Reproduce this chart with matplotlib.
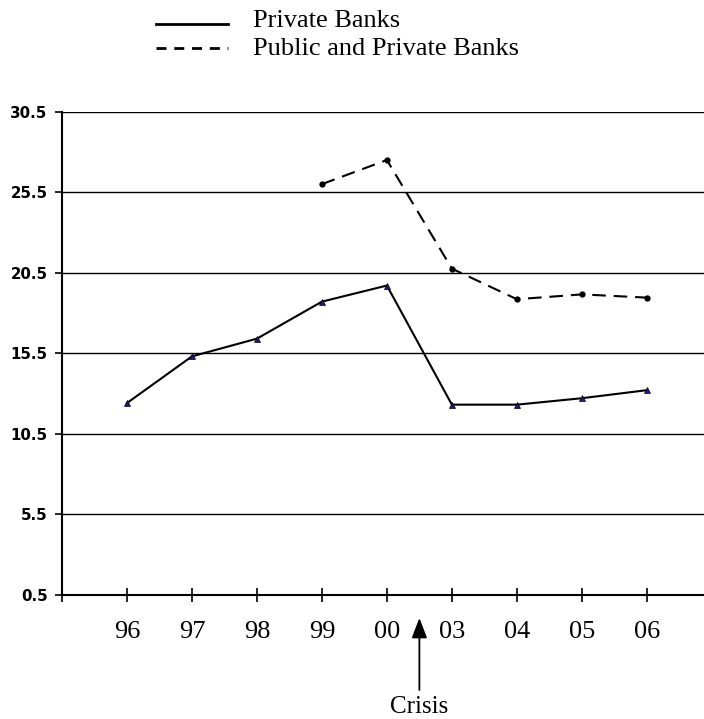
import matplotlib.pyplot as plt
import numpy as np
from matplotlib.lines import Line2D

years = ['96', '97', '98', '99', '00', '03', '04', '05', '06']
private = [12.4, 15.3, 16.4, 18.7, 19.7, 12.3, 12.3, 12.7, 13.2]
public_private = [np.nan, np.nan, np.nan, 26.0, 27.5, 20.75, 18.85, 19.15, 18.95]
yticks = [0.5, 5.5, 10.5, 15.5, 20.5, 25.5, 30.5]
labels = ['Private Banks', 'Public and Private Banks']

W, H = 704, 719
fig = plt.figure(figsize=(W / 100, H / 100), dpi=100)
ax = fig.add_axes([62 / W, 124.4 / H, 1 - 62 / W, 482.9 / H])

x = np.arange(len(years))
ax.plot(x, private, color='black', lw=1.5, marker='^', ms=4.5,
        mfc='#1a1a80', mec='black', mew=0.5, zorder=3)
ax.plot(x, public_private, color='black', lw=1.5, ls=(0, (6.5, 3.8)),
        marker='o', ms=3.5, mfc='black', mec='black', zorder=3)

ax.set_ylim(0.5, 30.5)
ax.set_xlim(-1, 8.88)
ax.set_yticks(yticks)
ax.set_yticklabels([str(v) for v in yticks], fontweight='bold',
                   fontsize=10.8, family='DejaVu Sans')
ax.set_xticks(np.arange(-1, len(years)))
ax.set_xticklabels([''] + years, fontsize=19, family='Liberation Serif')
ax.tick_params(axis='x', direction='inout', length=10, width=1.2, pad=14)
ax.tick_params(axis='y', direction='out', length=5, width=1.2, pad=5.5)

for v in yticks[1:]:
    ax.axhline(v, color='black', lw=1.0, zorder=1)

ax.spines['right'].set_visible(False)
ax.spines['top'].set_visible(False)
ax.spines['left'].set_linewidth(1.5)
ax.spines['bottom'].set_linewidth(1.5)

# crisis marker between 00 and 03
ax_h = 482.9
ax.annotate('', xy=(4.5, -(618 - 594.6) / ax_h), xycoords=('data', 'axes fraction'),
            xytext=(4.5, -(690 - 594.6) / ax_h), textcoords=('data', 'axes fraction'),
            arrowprops=dict(arrowstyle='-|>,head_length=1.22,head_width=0.47',
                            mutation_scale=10, color='black', lw=1.3,
                            shrinkA=0, shrinkB=0),
            annotation_clip=False)
ax.text(4.5, -(713 - 594.6) / ax_h, 'Crisis', transform=ax.get_xaxis_transform(),
        ha='center', va='baseline', fontsize=18, family='Liberation Serif',
        clip_on=False)

# legend drawn by hand at the top
fig.add_artist(Line2D([156 / W, 228 / W], [1 - 24 / H, 1 - 24 / H],
                      color='black', lw=2.0, transform=fig.transFigure))
fig.add_artist(Line2D([156 / W, 228 / W], [1 - 48 / H, 1 - 48 / H],
                      color='black', lw=2.0, ls=(0, (3.6, 2.8)),
                      transform=fig.transFigure))
fig.text(253 / W, 1 - 27 / H, labels[0], fontsize=19,
         family='Liberation Serif', va='baseline')
fig.text(253 / W, 1 - 55 / H, labels[1], fontsize=19,
         family='Liberation Serif', va='baseline')

fig.savefig('out.png', dpi=100)
